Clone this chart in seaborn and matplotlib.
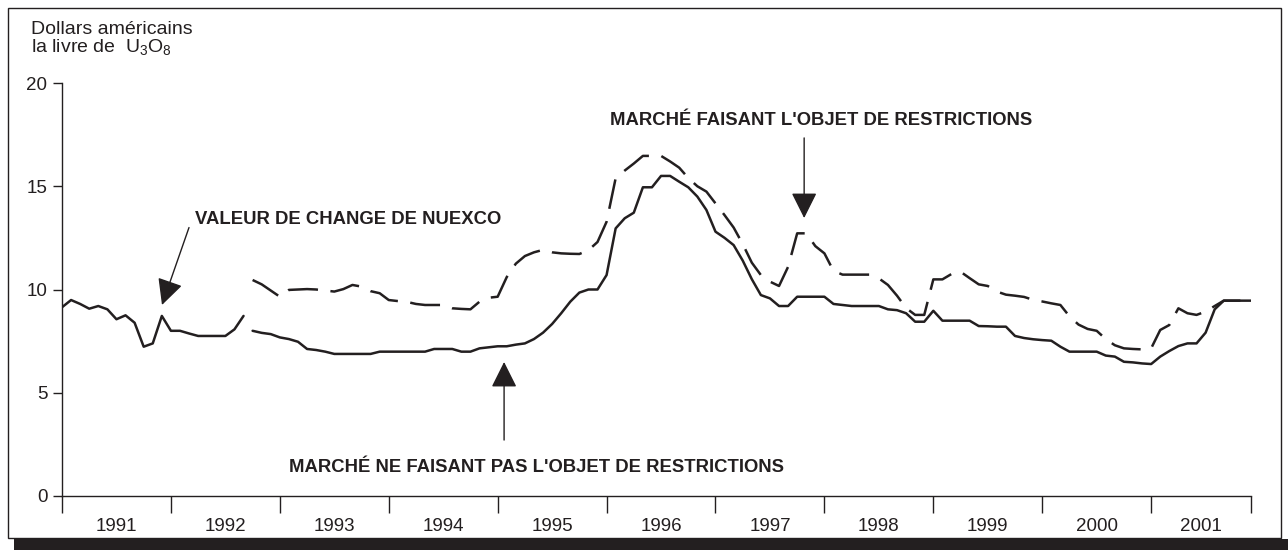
import matplotlib
matplotlib.use("Agg")  # pas d'affichage
import matplotlib.pyplot as plt
from matplotlib.patches import Rectangle
import numpy as np
import seaborn as sns

# ─── Données (USD la livre de U3O8, mensuel) ─────────────────────────────────
# Valeur de change NUEXCO, janvier 1991 - septembre 1992
valeur_nuexco = [
    9.14, 9.49, 9.30, 9.07, 9.20, 9.04, 8.56, 8.75, 8.39, 7.23, 7.39, 8.72,
    8.00, 8.00, 7.87, 7.75, 7.75, 7.75, 7.75, 8.07, 8.72,
]
# Marché ne faisant pas l'objet de restrictions, octobre 1992 - décembre 2001
marche_libre = [
    8.00, 7.90, 7.84,
    7.68, 7.60, 7.47, 7.12, 7.07, 6.99, 6.88, 6.88, 6.88, 6.88, 6.88, 6.99,
    6.99, 6.99, 6.99, 6.99, 6.99, 7.12, 7.12, 7.12, 6.99, 6.99, 7.15, 7.20,
    7.25, 7.25, 7.33, 7.39, 7.60, 7.91, 8.33, 8.85, 9.41, 9.85, 10.00, 10.00,
    10.70, 12.96, 13.45, 13.72, 14.95, 14.95, 15.50, 15.50, 15.22, 14.95, 14.50, 13.85,
    12.80, 12.50, 12.15, 11.40, 10.50, 9.73, 9.57, 9.20, 9.20, 9.65, 9.65, 9.65,
    9.65, 9.30, 9.25, 9.20, 9.20, 9.20, 9.20, 9.04, 9.00, 8.85, 8.44, 8.44,
    8.97, 8.49, 8.49, 8.49, 8.49, 8.23, 8.22, 8.20, 8.20, 7.75, 7.65, 7.59,
    7.55, 7.52, 7.23, 6.99, 6.99, 6.99, 6.99, 6.80, 6.75, 6.50, 6.47, 6.42,
    6.39, 6.75, 7.02, 7.26, 7.39, 7.39, 7.91, 9.04, 9.46, 9.46, 9.46, 9.46,
]
# Marché faisant l'objet de restrictions, octobre 1992 - décembre 2001
marche_restreint = [
    10.46, 10.25, 9.95,
    9.65, 9.98, 10.00, 10.02, 10.00, 9.95, 9.90, 10.02, 10.22, 10.14, 9.92, 9.82,
    9.49, 9.44, 9.40, 9.30, 9.25, 9.25, 9.25, 9.09, 9.06, 9.04, 9.41, 9.60,
    9.65, 10.60, 11.25, 11.62, 11.80, 11.92, 11.80, 11.75, 11.73, 11.72, 11.90, 12.30,
    13.28, 15.39, 15.76, 16.10, 16.47, 16.47, 16.47, 16.20, 15.90, 15.40, 15.00, 14.74,
    14.17, 13.60, 13.00, 12.20, 11.30, 10.70, 10.38, 10.17, 11.10, 12.72, 12.72, 12.10,
    11.75, 10.90, 10.72, 10.72, 10.72, 10.72, 10.54, 10.22, 9.70, 9.10, 8.77, 8.77,
    10.49, 10.49, 10.75, 10.86, 10.55, 10.25, 10.17, 9.90, 9.75, 9.70, 9.64, 9.50,
    9.42, 9.33, 9.25, 8.70, 8.30, 8.09, 8.00, 7.60, 7.30, 7.15, 7.12, 7.10,
    7.15, 8.04, 8.28, 9.09, 8.85, 8.77, 8.93, 9.20, 9.46, 9.46, 9.46, 9.46,
]
annees = [str(a) for a in range(1991, 2002)]
graduations_y = [0, 5, 10, 15, 20]

INK = "#231f20"
W, H = 1288, 550

sns.set_style("white")
plt.rcParams["font.family"] = ["Liberation Sans", "DejaVu Sans"]
plt.rcParams["mathtext.fontset"] = "custom"
plt.rcParams["mathtext.rm"] = "Liberation Sans"
plt.rcParams["mathtext.it"] = "Liberation Sans:italic"
plt.rcParams["text.color"] = INK

fig = plt.figure(figsize=(W / 100, H / 100), dpi=100)
ax = fig.add_axes([62 / W, 1 - 496 / H, (1251 - 62) / W, (496 - 83) / H])

n0 = len(valeur_nuexco)
mois_debut = 1991 + np.arange(n0) / 12
mois_suite = 1991 + (n0 + np.arange(len(marche_libre))) / 12

sns.lineplot(x=mois_debut, y=valeur_nuexco, ax=ax, color=INK, lw=1.8)
sns.lineplot(x=mois_suite, y=marche_libre, ax=ax, color=INK, lw=1.8)
sns.lineplot(x=mois_suite, y=marche_restreint, ax=ax, color=INK, lw=1.8,
             linestyle=(0, (12, 5)))

x_fin = mois_suite[-1]
ax.set_xlim(1991, x_fin)
ax.set_ylim(0, 20)

# axe des x : traits aux limites d'année, étiquettes au milieu
bornes = list(range(1991, 2002)) + [x_fin]
ax.set_xticks(bornes)
ax.set_xticklabels([])
ax.set_xticks([(a + b) / 2 for a, b in zip(bornes[:-1], bornes[1:])], minor=True)
ax.set_xticklabels(annees, minor=True)
ax.tick_params(axis="x", which="major", bottom=True, length=12.5, width=1,
               color=INK, direction="out")
ax.tick_params(axis="x", which="minor", bottom=True, length=0, pad=16,
               labelsize=13.5, labelcolor=INK)

ax.set_yticks(graduations_y)
ax.tick_params(axis="y", left=True, length=6.5, width=1, color=INK, direction="out",
               pad=4, labelsize=13.5, labelcolor=INK)

sns.despine(ax=ax)
for s in ("left", "bottom"):
    ax.spines[s].set_color(INK)
    ax.spines[s].set_linewidth(1)
ax.grid(False)

# ─── Annotations ────────────────────────────────────────────────────────────
fleche = dict(arrowstyle="-|>,head_length=0.8,head_width=0.4", mutation_scale=20,
              lw=1, color=INK, shrinkA=0, shrinkB=0)
gras = dict(fontsize=13.3, fontweight="bold", color=INK)

ax.annotate("", xy=(1991.918, 9.25), xytext=(1992.166, 13.0), arrowprops=fleche)
ax.text(1992.22, 13.4, "VALEUR DE CHANGE DE NUEXCO", ha="left", va="center", **gras)

ax.annotate("", xy=(1997.814, 13.46), xytext=(1997.814, 17.34), arrowprops=fleche)
ax.text(1997.974, 18.16, "MARCHÉ FAISANT L'OBJET DE RESTRICTIONS", ha="center", va="center", **gras)

ax.annotate("", xy=(1995.059, 6.49), xytext=(1995.059, 2.71), arrowprops=fleche)
ax.text(1995.357, 1.40, "MARCHÉ NE FAISANT PAS L'OBJET DE RESTRICTIONS", ha="center", va="center", **gras)

# titre de l'axe des y
fig.text(31 / W, 1 - 30 / H, "Dollars américains", ha="left", va="center", fontsize=14)
fig.text(31 / W, 1 - 47 / H, r"la livre de  U$_{3}$O$_{8}$", ha="left", va="center", fontsize=14)

# cadre et ombre
fig.add_artist(Rectangle((8 / W, 1 - 538 / H), (1281 - 8) / W, (538 - 8) / H,
                         transform=fig.transFigure, fill=False, ec=INK, lw=1))
fig.add_artist(Rectangle((14 / W, 0), 1, 11 / H, transform=fig.transFigure,
                         fc=INK, ec="none"))

fig.savefig("out.png", dpi=100)
plt.close(fig)
